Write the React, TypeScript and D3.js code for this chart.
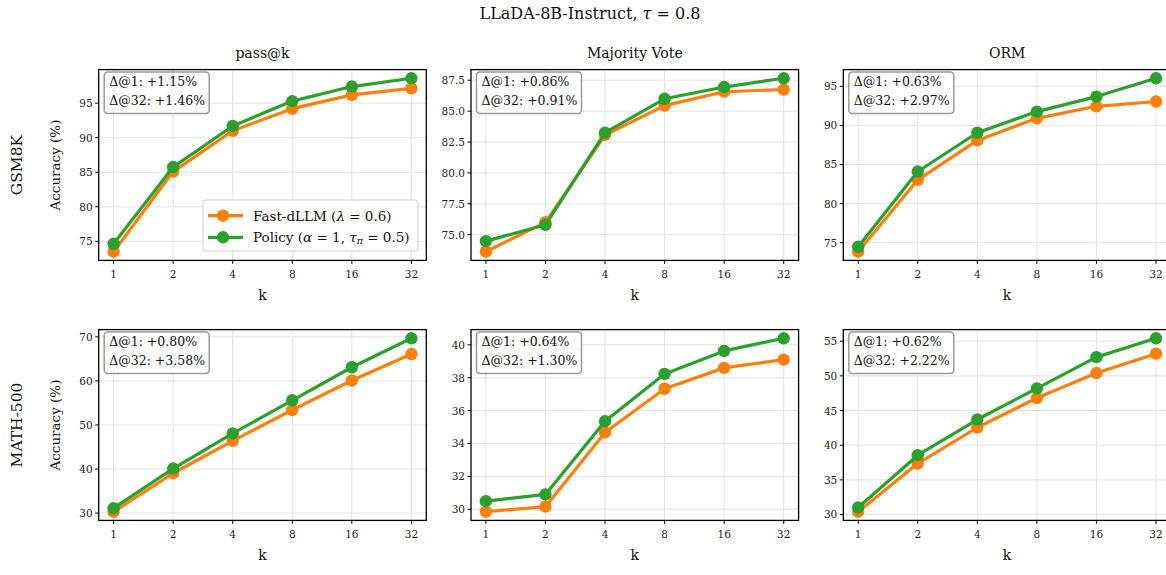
import React from "react";
import * as d3 from "d3";

const ks = ["1", "2", "4", "8", "16", "32"];
const rowLabels = ["GSM8K", "MATH-500"];
const colTitles = ["pass@k", "Majority Vote", "ORM"];

const gsmPassFast = [73.5, 85.1, 91.0, 94.2, 96.2, 97.15];
const gsmPassPolicy = [74.65, 85.75, 91.7, 95.3, 97.4, 98.6];
const gsmMajFast = [73.62, 76.0, 83.07, 85.45, 86.57, 86.75];
const gsmMajPolicy = [74.48, 75.8, 83.26, 86.0, 86.95, 87.66];
const gsmOrmFast = [73.85, 83.04, 88.08, 90.9, 92.44, 93.05];
const gsmOrmPolicy = [74.48, 84.1, 89.06, 91.76, 93.68, 96.02];
const mathPassFast = [30.3, 39.04, 46.4, 53.4, 60.1, 66.1];
const mathPassPolicy = [31.1, 40.1, 48.07, 55.6, 63.1, 69.68];
const mathMajFast = [29.85, 30.16, 34.67, 37.33, 38.6, 39.1];
const mathMajPolicy = [30.49, 30.9, 35.35, 38.23, 39.63, 40.4];
const mathOrmFast = [30.4, 37.34, 42.55, 46.8, 50.4, 53.2];
const mathOrmPolicy = [31.02, 38.55, 43.7, 48.2, 52.7, 55.42];

const yTicks = [
  [[75, 80, 85, 90, 95], [75, 77.5, 80, 82.5, 85, 87.5], [75, 80, 85, 90, 95]],
  [[30, 40, 50, 60, 70], [30, 32, 34, 36, 38, 40], [30, 35, 40, 45, 50, 55]],
];
const yTickFmt = [
  ["d", ".1f", "d"],
  ["d", "d", "d"],
];
const deltas = [
  [["+1.15%", "+1.46%"], ["+0.86%", "+0.91%"], ["+0.63%", "+2.97%"]],
  [["+0.80%", "+3.58%"], ["+0.64%", "+1.30%"], ["+0.62%", "+2.22%"]],
];
const series = [
  [[gsmPassFast, gsmPassPolicy], [gsmMajFast, gsmMajPolicy], [gsmOrmFast, gsmOrmPolicy]],
  [[mathPassFast, mathPassPolicy], [mathMajFast, mathMajPolicy], [mathOrmFast, mathOrmPolicy]],
];

const ORANGE = "#ff7f0e";
const GREEN = "#2ca02c";
const FONT = "'DejaVu Serif', 'Liberation Serif', serif";

const W = 1166;
const H = 575;
const panelW = 327.6;
const panelH = 190.8;
const lefts = [98.7, 471.0, 843.3];
const tops = [69.6, 329.6];

function Panel({ r, c }: { r: number; c: number }) {
  const x0 = lefts[c];
  const y0 = tops[r];
  const [fast, policy] = series[r][c];
  const all = fast.concat(policy);
  const mn = d3.min(all) as number;
  const mx = d3.max(all) as number;
  const m = (mx - mn) * 0.05;
  const x = d3.scalePoint<string>().domain(ks).range([0, panelW]).padding(0.25);
  const y = d3.scaleLinear().domain([mn - m, mx + m]).range([panelH, 0]);
  const fmt = d3.format(yTickFmt[r][c]);
  const line = d3
    .line<number>()
    .x((_, i) => x(ks[i]) as number)
    .y((d) => y(d));
  const ticks = yTicks[r][c];
  return (
    <g transform={`translate(${x0},${y0})`}>
      <defs>
        <clipPath id={`clip-${r}-${c}`}>
          <rect x={0} y={0} width={panelW} height={panelH} />
        </clipPath>
      </defs>
      {ks.map((k) => (
        <line key={"gx" + k} x1={x(k)} x2={x(k)} y1={0} y2={panelH} stroke="#e3e3e3" strokeWidth={1} />
      ))}
      {ticks.map((t) => (
        <line key={"gy" + t} x1={0} x2={panelW} y1={y(t)} y2={y(t)} stroke="#e3e3e3" strokeWidth={1} />
      ))}
      <g clipPath={`url(#clip-${r}-${c})`}>
        {[fast, policy].map((s, si) => (
          <g key={si}>
            <path d={line(s) as string} fill="none" stroke={si === 0 ? ORANGE : GREEN} strokeWidth={3.2} strokeLinejoin="round" />
            {s.map((v, i) => (
              <circle key={i} cx={x(ks[i])} cy={y(v)} r={6.2} fill={si === 0 ? ORANGE : GREEN} />
            ))}
          </g>
        ))}
      </g>
      <rect x={0} y={0} width={panelW} height={panelH} fill="none" stroke="#000" strokeWidth={1.3} />
      {ks.map((k) => (
        <g key={"tx" + k}>
          <line x1={x(k)} x2={x(k)} y1={panelH} y2={panelH + 3.5} stroke="#000" strokeWidth={1} />
          <text x={x(k)} y={panelH + 14} textAnchor="middle" dominantBaseline="central" fontSize={10.5} fontFamily={FONT} fill="#222">
            {k}
          </text>
        </g>
      ))}
      {ticks.map((t) => (
        <g key={"ty" + t}>
          <line x1={-3.5} x2={0} y1={y(t)} y2={y(t)} stroke="#000" strokeWidth={1} />
          <text x={-6} y={y(t)} textAnchor="end" dominantBaseline="central" fontSize={10.5} fontFamily={FONT} fill="#222">
            {fmt(t)}
          </text>
        </g>
      ))}
      <text x={panelW / 2} y={panelH + 35} textAnchor="middle" dominantBaseline="central" fontSize={14} fontFamily={FONT} fill="#111">
        k
      </text>
      {r === 0 && (
        <text x={panelW / 2} y={-17} textAnchor="middle" dominantBaseline="central" fontSize={14} fontFamily={FONT} fill="#111">
          {colTitles[c]}
        </text>
      )}
      <rect x={5.5} y={2.3} width={105} height={41.5} rx={3.5} fill="#fff" fillOpacity={0.85} stroke="#9a9a9a" strokeWidth={1.5} />
      <text x={10.5} y={12.3} dominantBaseline="central" fontSize={12.5} fontFamily={FONT} fill="#111">
        Δ@1: {deltas[r][c][0]}
      </text>
      <text x={10.5} y={30.8} dominantBaseline="central" fontSize={12.5} fontFamily={FONT} fill="#111">
        Δ@32: {deltas[r][c][1]}
      </text>
      {c === 0 && (
        <>
          <text
            transform={`translate(${55 - x0},${panelH / 2}) rotate(-90)`}
            textAnchor="middle"
            dominantBaseline="central"
            fontSize={13.5}
            fontFamily={FONT}
            fill="#111"
          >
            Accuracy (%)
          </text>
          <text
            transform={`translate(${17 - x0},${panelH / 2}) rotate(-90)`}
            textAnchor="middle"
            dominantBaseline="central"
            fontSize={15.5}
            fontFamily={FONT}
            fill="#111"
          >
            {rowLabels[r]}
          </text>
        </>
      )}
      {r === 0 && c === 0 && (
        <g transform={`translate(${203 - x0},${200 - y0})`}>
          <rect x={0} y={0} width={215} height={51} rx={3} fill="#fff" fillOpacity={0.85} stroke="#d0d0d0" strokeWidth={1} />
          <line x1={5} x2={40} y1={15.7} y2={15.7} stroke={ORANGE} strokeWidth={3.2} />
          <circle cx={20} cy={15.7} r={6.2} fill={ORANGE} />
          <text x={50} y={15.7} dominantBaseline="central" fontSize={13.5} fontFamily={FONT} fill="#111">
            Fast-dLLM (<tspan fontStyle="italic">λ</tspan> = 0.6)
          </text>
          <line x1={5} x2={40} y1={37.3} y2={37.3} stroke={GREEN} strokeWidth={3.2} />
          <circle cx={20} cy={37.3} r={6.2} fill={GREEN} />
          <text x={50} y={37.3} dominantBaseline="central" fontSize={13.5} fontFamily={FONT} fill="#111">
            Policy (<tspan fontStyle="italic">α</tspan> = 1, <tspan fontStyle="italic">τ</tspan>
            <tspan fontStyle="italic" fontSize={9.5} dy={3}>π</tspan>
            <tspan dy={-3}> = 0.5)</tspan>
          </text>
        </g>
      )}
    </g>
  );
}

export default function App() {
  return (
    <svg width={W} height={H} style={{ position: "absolute", left: 0, top: 0, background: "#fff" }}>
      <rect x={0} y={0} width={W} height={H} fill="#fff" />
      <text x={590} y={13} textAnchor="middle" dominantBaseline="central" fontSize={16} fontFamily={FONT} fill="#111">
        LLaDA-8B-Instruct, <tspan fontStyle="italic">τ</tspan> = 0.8
      </text>
      {[0, 1].map((r) => [0, 1, 2].map((c) => <Panel key={`${r}-${c}`} r={r} c={c} />))}
    </svg>
  );
}
